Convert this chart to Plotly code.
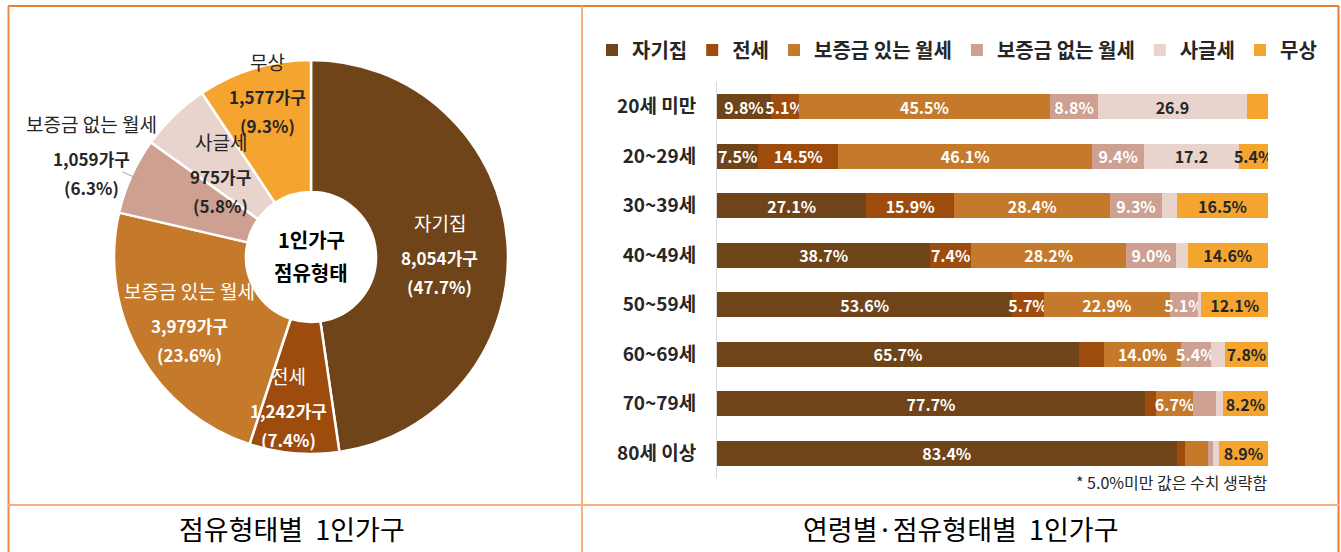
import math
import plotly.graph_objects as go

W, H = 1341, 552
FONT = "Noto Sans CJK KR"

# ---------------- data ----------------
tenure = ["자기집", "전세", "보증금 있는 월세", "보증금 없는 월세", "사글세", "무상"]
households = [8054, 1242, 3979, 1059, 975, 1577]
share_pct = [47.7, 7.4, 23.6, 6.3, 5.8, 9.3]

age_groups = ["20세 미만", "20~29세", "30~39세", "40~49세", "50~59세", "60~69세", "70~79세", "80세 이상"]
own_home = [9.8, 7.5, 27.1, 38.7, 53.6, 65.7, 77.7, 83.4]
jeonse = [5.1, 14.5, 15.9, 7.4, 5.7, 4.5, 2.0, 1.5]
monthly_deposit = [45.5, 46.1, 28.4, 28.2, 22.9, 14.0, 6.7, 4.2]
monthly_no_deposit = [8.8, 9.4, 9.3, 9.0, 5.1, 5.4, 4.1, 1.0]
sagulse = [26.9, 17.2, 2.8, 2.1, 0.6, 2.6, 1.3, 1.0]
free = [3.9, 5.4, 16.5, 14.6, 12.1, 7.8, 8.2, 8.9]
series_values = [own_home, jeonse, monthly_deposit, monthly_no_deposit, sagulse, free]
no_pct_labels = {("사글세", "20세 미만"), ("사글세", "20~29세")}

# ---------------- styles ----------------
colors = ["#6F4419", "#9E4C0D", "#C47A2A", "#CDA092", "#E8D4CC", "#F5A52F"]
bar_text_colors = ["white", "white", "white", "white", "#262626", "#262626"]
pie_text_colors = ["white", "white", "white", "#262626", "#262626", "#262626"]
pie_label_radius = [0.68, 0.80, 0.71, 1.22, 0.61, 0.85]
pie_label_nudge = [(-5, 10), (-9, -4), (0, 0), (0, 0), (-7, 6), (5, 0)]


def px(x):
    return x / W


def py(y):
    return 1 - y / H


fig = go.Figure()

# ---------------- donut ----------------
cx, cy, R = 311, 257, 197
fig.add_trace(go.Pie(
    labels=tenure, values=households, sort=False, direction="clockwise", rotation=0,
    hole=0.33, textinfo="none", hoverinfo="label+value+percent",
    marker=dict(colors=colors, line=dict(color="white", width=2.5)),
    domain=dict(x=[px(cx - R), px(cx + R)], y=[py(cy + R), py(cy - R)]),
    showlegend=False,
))

annotations = []
cum = 0.0
total = sum(households)
for i, name in enumerate(tenure):
    frac_mid = (cum + households[i] / 2) / total
    cum += households[i]
    th = 2 * math.pi * frac_mid
    r = R * pie_label_radius[i]
    lx = cx + r * math.sin(th) + pie_label_nudge[i][0]
    ly = cy - r * math.cos(th) + pie_label_nudge[i][1]
    lines = [(name, 19, "normal"), (f"{households[i]:,}가구", 17, "bold"),
             (f"({share_pct[i]}%)", 17, "bold")]
    offs = [-35, 0, 29]
    for (ln, fs, fw), off in zip(lines, offs):
        annotations.append(dict(
            x=px(lx), y=py(ly + off), xref="paper", yref="paper", text=ln,
            showarrow=False,
            font=dict(family=FONT, size=fs, color=pie_text_colors[i], weight=fw),
            xanchor="center", yanchor="middle"))
    if pie_label_radius[i] > 1:
        x0 = cx + R * 0.95 * math.sin(th)
        y0 = cy - R * 0.95 * math.cos(th)
        x1 = cx + R * 1.05 * math.sin(th)
        y1 = cy - R * 1.05 * math.cos(th)
        fig.add_shape(type="line", xref="paper", yref="paper",
                      x0=px(x0), y0=py(y0), x1=px(x1), y1=py(y1),
                      line=dict(color="#A6A6A6", width=1))

for txt, yy in [("1인가구", 240), ("점유형태", 272)]:
    annotations.append(dict(x=px(cx), y=py(yy), xref="paper", yref="paper",
                            text=f"<b>{txt}</b>", showarrow=False,
                            xanchor="center", yanchor="middle",
                            font=dict(family=FONT, size=20, color="black")))

# ---------------- stacked bars ----------------
for s, name in enumerate(tenure):
    vals = series_values[s]
    labels = []
    for a, v in zip(age_groups, vals):
        if v < 5.0:
            labels.append("")
        elif (name, a) in no_pct_labels:
            labels.append(f"{v:.1f}")
        else:
            labels.append(f"{v:.1f}%")
    fig.add_trace(go.Bar(
        y=age_groups, x=vals, name=name, orientation="h",
        marker=dict(color=colors[s], line=dict(width=0)),
        text=labels, textposition="inside", insidetextanchor="middle",
        constraintext="none",
        textfont=dict(family=FONT, size=16, color=bar_text_colors[s], weight="bold"),
        xaxis="x", yaxis="y",
    ))

fig.update_layout(
    width=W, height=H,
    margin=dict(l=0, r=0, t=0, b=0),
    paper_bgcolor="white", plot_bgcolor="white",
    barmode="stack", bargap=0.5,
    uniformtext=dict(minsize=16, mode="show"),
    font=dict(family=FONT),
    xaxis=dict(domain=[px(717), px(1268)], range=[0, 100], showticklabels=False,
               showgrid=False, zeroline=False, fixedrange=True),
    yaxis=dict(domain=[py(478), py(82)], autorange="reversed", showgrid=False,
               zeroline=False, showline=True, linecolor="#D9D9D9", linewidth=1,
               ticks="", ticklabelstandoff=16,
               tickfont=dict(family=FONT, size=19, color="#262626", weight="bold")),
    legend=dict(orientation="h", x=px(592), xanchor="left", y=py(50), yanchor="middle",
                font=dict(family=FONT, size=20, color="#262626", weight="bold"),
                traceorder="normal", itemwidth=30, bgcolor="rgba(0,0,0,0)"),
)

annotations.append(dict(x=px(1270), y=py(482), xref="paper", yref="paper",
                        text="* 5.0%미만 값은 수치 생략함", showarrow=False, xanchor="right",
                        yanchor="middle",
                        font=dict(family=FONT, size=16, color="#262626")))
annotations.append(dict(x=px(292), y=py(528), xref="paper", yref="paper",
                        text="점유형태별  1인가구", showarrow=False,
                        xanchor="center", yanchor="middle",
                        font=dict(family=FONT, size=27, color="black")))
annotations.append(dict(x=px(960), y=py(528), xref="paper", yref="paper",
                        text="연령별·점유형태별  1인가구", showarrow=False,
                        xanchor="center", yanchor="middle",
                        font=dict(family=FONT, size=27, color="black")))
fig.update_layout(annotations=annotations)

# ---------------- table frame ----------------
frame = [
    (8, 6, 1339, 6, "#ED7D31", 2),
    (8.5, 6, 8.5, 552, "#F08A4B", 2),
    (1338.5, 6, 1338.5, 552, "#ED7D31", 2),
    (582, 6, 582, 552, "#F4B183", 2),
    (8, 505, 1339, 505, "#F4B183", 2),
]
for x0, y0, x1, y1, c, w in frame:
    fig.add_shape(type="line", xref="paper", yref="paper",
                  x0=px(x0), y0=py(y0), x1=px(x1), y1=py(y1),
                  line=dict(color=c, width=w))

fig.write_html("out.html", config={"displayModeBar": False},
               post_script="document.body.style.margin='0px';document.body.style.overflow='hidden';")
